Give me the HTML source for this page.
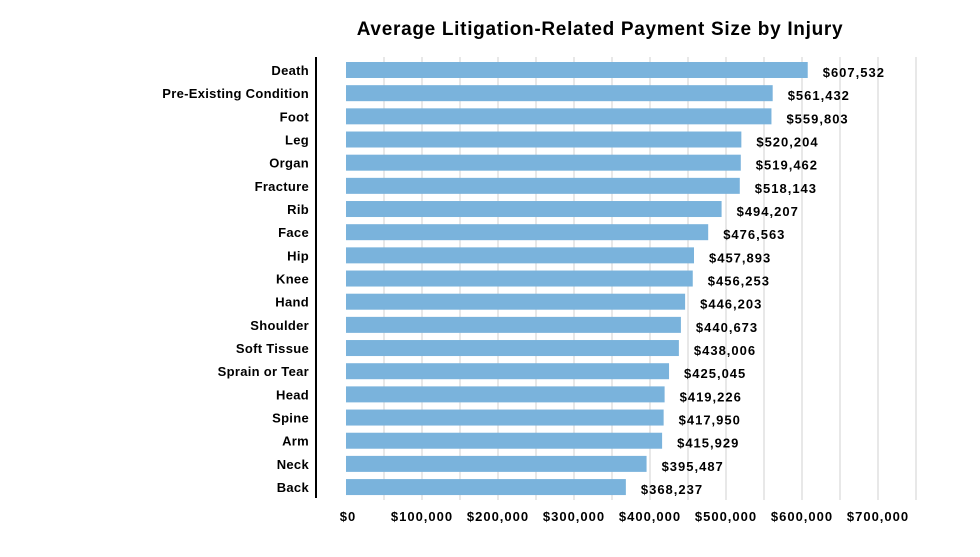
<!DOCTYPE html><html><head><style>body{margin:0;background:#fff}</style></head><body>
<svg width="980" height="552" xmlns="http://www.w3.org/2000/svg" font-family="Liberation Sans, Arial, sans-serif" font-weight="bold">
<rect width="980" height="552" fill="#fff"/>
<text x="600" y="35" font-size="19" letter-spacing="0.7" text-anchor="middle" fill="#000">Average Litigation-Related Payment Size by Injury</text>
<g stroke="#d0d0d0" stroke-width="1">
<line x1="384" y1="57" x2="384" y2="500"/><line x1="422" y1="57" x2="422" y2="500"/><line x1="460" y1="57" x2="460" y2="500"/><line x1="498" y1="57" x2="498" y2="500"/><line x1="536" y1="57" x2="536" y2="500"/><line x1="574" y1="57" x2="574" y2="500"/><line x1="612" y1="57" x2="612" y2="500"/><line x1="650" y1="57" x2="650" y2="500"/><line x1="688" y1="57" x2="688" y2="500"/><line x1="726" y1="57" x2="726" y2="500"/><line x1="764" y1="57" x2="764" y2="500"/><line x1="802" y1="57" x2="802" y2="500"/><line x1="840" y1="57" x2="840" y2="500"/><line x1="878" y1="57" x2="878" y2="500"/><line x1="916" y1="57" x2="916" y2="500"/>
</g>
<line x1="316" y1="57" x2="316" y2="498" stroke="#000" stroke-width="2"/>
<g id="bars" fill="#7ab3dc"></g>
<g id="labs" font-size="13" fill="#000"></g>
<g font-size="13" fill="#000" text-anchor="middle" letter-spacing="1">
<text x="348" y="521">$0</text><text x="422" y="521">$100,000</text><text x="498" y="521">$200,000</text><text x="574" y="521">$300,000</text><text x="650" y="521">$400,000</text><text x="726" y="521">$500,000</text><text x="802" y="521">$600,000</text><text x="878" y="521">$700,000</text>
</g>
<script>
var d=[["Death",607532],["Pre-Existing Condition",561432],["Foot",559803],["Leg",520204],["Organ",519462],["Fracture",518143],["Rib",494207],["Face",476563],["Hip",457893],["Knee",456253],["Hand",446203],["Shoulder",440673],["Soft Tissue",438006],["Sprain or Tear",425045],["Head",419226],["Spine",417950],["Arm",415929],["Neck",395487],["Back",368237]];
var b=document.getElementById('bars'),l=document.getElementById('labs'),ns='http://www.w3.org/2000/svg';
d.forEach(function(r,i){var c=70+i*23.17,w=r[1]*0.00076;
var e=document.createElementNS(ns,'rect');e.setAttribute('x',346);e.setAttribute('y',c-8);e.setAttribute('width',w);e.setAttribute('height',16);b.appendChild(e);
var t=document.createElementNS(ns,'text');t.setAttribute('x',309);t.setAttribute('y',c+5);t.setAttribute('text-anchor','end');t.setAttribute('letter-spacing','0.3');t.textContent=r[0];l.appendChild(t);
t=document.createElementNS(ns,'text');t.setAttribute('x',346+w+15);t.setAttribute('y',c+7);t.setAttribute('letter-spacing','1');t.textContent='$'+r[1].toLocaleString('en-US');l.appendChild(t);});
</script>
</svg></body></html>
